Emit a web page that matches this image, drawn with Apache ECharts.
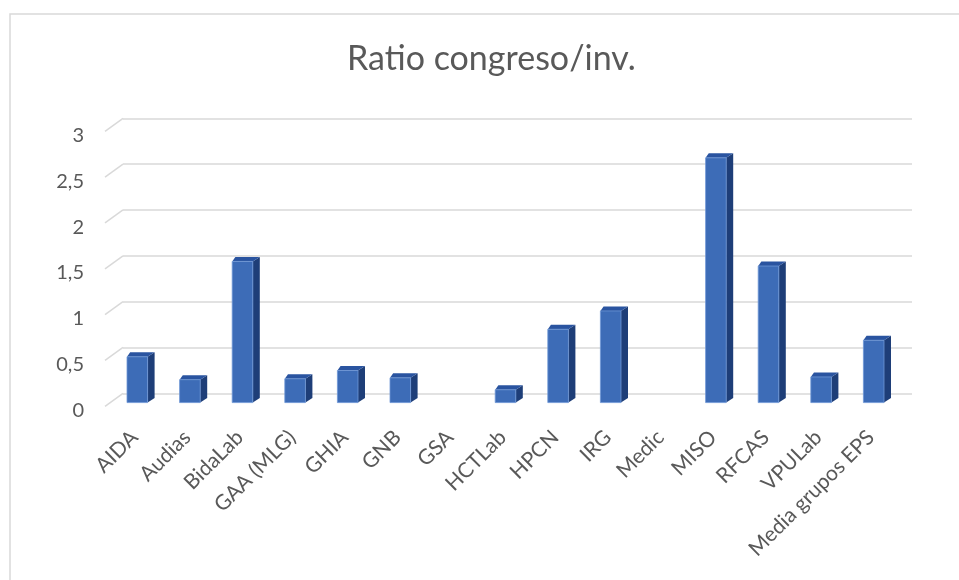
<!DOCTYPE html>
<html>
<head>
<meta charset="utf-8">
<script src="https://cdn.jsdelivr.net/npm/echarts@6/dist/echarts.min.js"></script>
<style>html,body{margin:0;padding:0;background:#fff;}#c{width:959px;height:580px;}</style>
</head>
<body>
<div id="c"></div>
<script>
var titleText = 'Ratio congreso/inv.';
var categories = ['AIDA','Audias','BidaLab','GAA (MLG)','GHIA','GNB','GSA','HCTLab','HPCN','IRG','Medic','MISO','RFCAS','VPULab','Media grupos EPS'];
var values = [0.5, 0.25, 1.54, 0.26, 0.35, 0.27, null, 0.14, 0.80, 1.00, null, 2.67, 1.49, 0.28, 0.68];
var yTicks = [0, 0.5, 1, 1.5, 2, 2.5, 3];

var FONT = 'Lato';
var GRAY = '#595959';
var depth = [18, -13];      // floor depth (front edge -> back wall)
var barShift = [6, -3.7];   // bar front face relative to front edge
var barW = 20.6;
var barDepth = [7, -4.5];

var chart = echarts.init(document.getElementById('c'), null, {renderer: 'canvas'});

var barData = values.map(function (v, i) { return [i, v]; });
var tickData = yTicks.map(function (v) { return [0, v]; });

var option = {
  backgroundColor: '#fff',
  animation: false,
  title: {
    text: titleText,
    left: 342,
    top: 37,
    textStyle: {fontFamily: FONT, fontSize: 34, fontWeight: 'normal', color: GRAY}
  },
  graphic: [{
    type: 'rect', silent: true, z: -10,
    shape: {x: 10, y: 14, width: 1000, height: 1000},
    style: {fill: 'none', stroke: '#d9d9d9', lineWidth: 1.5}
  }],
  grid: [
    {left: 105, top: 131.3, width: 789, height: 275},
    {left: 105 + 18, top: 131.3 - 13, width: 789, height: 275},
    {left: 105, top: 135.5, width: 789, height: 275}
  ],
  xAxis: [
    {type: 'category', gridIndex: 0, data: categories,
     axisLine: {show: false}, axisTick: {show: false}, splitLine: {show: false},
     axisLabel: {interval: 0, rotate: 45, fontFamily: FONT, fontSize: 21, color: GRAY, margin: 16,
       verticalAlign: 'top', padding: [0, 6, 0, 0]}},
    {type: 'category', gridIndex: 1, data: categories, show: false},
    {type: 'category', gridIndex: 2, data: categories, show: false}
  ],
  yAxis: [
    {type: 'value', gridIndex: 0, min: 0, max: 3, interval: 0.5, show: false},
    {type: 'value', gridIndex: 1, min: 0, max: 3, interval: 0.5,
     axisLine: {show: false}, axisTick: {show: false}, axisLabel: {show: false},
     splitLine: {show: true, lineStyle: {color: '#d9d9d9', width: 1.5}}},
    {type: 'value', gridIndex: 2, min: 0, max: 3, interval: 0.5,
     axisLine: {show: false}, axisTick: {show: false}, splitLine: {show: false},
     axisLabel: {fontFamily: FONT, fontSize: 20, color: GRAY, margin: 21,
       formatter: function (v) { return String(v).replace('.', ','); }}}
  ],
  series: [
    {
      type: 'custom', xAxisIndex: 0, yAxisIndex: 0, z: 1, silent: true,
      data: tickData,
      renderItem: function (params, api) {
        var y = api.coord([0, api.value(1)])[1];
        var x0 = params.coordSys.x;
        return {type: 'line', shape: {x1: x0, y1: y, x2: x0 + depth[0], y2: y + depth[1]},
                style: {stroke: '#d9d9d9', lineWidth: 1.5}};
      }
    },
    {
      type: 'custom', xAxisIndex: 0, yAxisIndex: 0, z: 5, silent: true,
      data: barData,
      renderItem: function (params, api) {
        var v = api.value(1);
        if (v == null || isNaN(v)) return null;
        var base = api.coord([api.value(0), 0]);
        var top = api.coord([api.value(0), v]);
        var cx = base[0] + barShift[0];
        var yb = base[1] + barShift[1];
        var yt = top[1] + barShift[1];
        var xl = cx - barW / 2, xr = cx + barW / 2;
        var dx = barDepth[0], dy = barDepth[1];
        return {type: 'group', children: [
          {type: 'polygon', shape: {points: [[xr, yt], [xr + dx, yt + dy], [xr + dx, yb + dy], [xr, yb]]},
           style: {fill: '#1e3e78'}},
          {type: 'polygon', shape: {points: [[xl, yt], [xl + dx * 0.45, yt + dy], [xr + dx, yt + dy], [xr, yt]]},
           style: {fill: '#2a54a0'}},
          {type: 'rect', shape: {x: xl, y: yt, width: barW, height: yb - yt},
           style: {fill: '#3d6cb7', stroke: '#6f97d6', lineWidth: 0.8}}
        ]};
      }
    }
  ]
};
chart.setOption(option);
</script>
</body>
</html>
